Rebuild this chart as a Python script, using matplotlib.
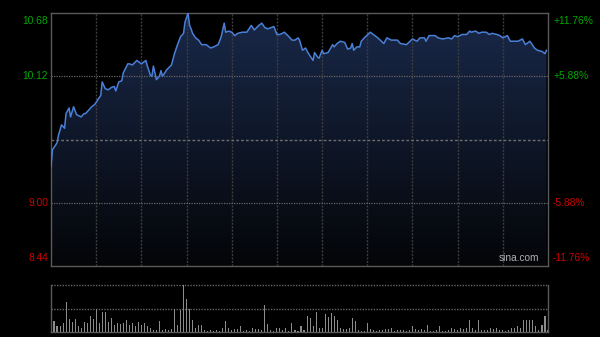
import numpy as np
import matplotlib
matplotlib.use("Agg")
import matplotlib.pyplot as plt
from matplotlib.colors import LinearSegmentedColormap

# ---- data ----
prev_close = 9.56
price_ticks_left = [10.68, 10.12, 9.00, 8.44]
pct_labels_right = ["+11.76%", "+5.88%", "-5.88%", "-11.76%"]

minutes = [0, 1, 4, 5, 7, 9, 10, 12, 13, 15, 17, 20, 22, 23, 27, 29, 31, 33, 34, 36,
           38, 40, 42, 43, 45, 47, 48, 51, 52, 54, 57, 60, 63, 64, 66, 67, 68, 70, 72, 73,
           74, 77, 80, 82, 84, 86, 88, 89, 91, 92, 93, 94, 96, 98, 100, 103, 106, 108, 111, 113,
           115, 116, 118, 120, 122, 124, 127, 130, 133, 135, 138, 140, 142, 144, 148, 150, 152, 155, 158, 160,
           162, 164, 165, 167, 169, 171, 174, 175, 177, 178, 180, 181, 184, 187, 188, 190, 192, 195, 197, 199,
           200, 201, 203, 205, 206, 208, 212, 214, 217, 221, 223, 226, 230, 232, 236, 240, 243, 245, 248, 249,
           251, 255, 257, 260, 264, 266, 268, 270, 273, 276, 278, 279, 282, 284, 286, 289, 291, 293, 296, 298,
           300, 303, 305, 308, 310, 313, 315, 318, 321, 323, 326, 328, 329]
prices = [9.32, 9.47, 9.53, 9.60, 9.69, 9.66, 9.79, 9.84, 9.76, 9.85, 9.78, 9.76, 9.79, 9.79, 9.85, 9.87, 9.91, 9.95, 10.07, 10.01,
          10.00, 10.02, 10.03, 9.99, 10.07, 10.08, 10.15, 10.23, 10.23, 10.22, 10.26, 10.23, 10.26, 10.21, 10.13, 10.12, 10.21, 10.09, 10.12, 10.17,
          10.12, 10.18, 10.22, 10.32, 10.40, 10.47, 10.50, 10.60, 10.68, 10.57, 10.54, 10.50, 10.46, 10.44, 10.40, 10.40, 10.37, 10.38, 10.40, 10.47,
          10.59, 10.51, 10.52, 10.51, 10.48, 10.50, 10.51, 10.51, 10.57, 10.53, 10.57, 10.59, 10.55, 10.54, 10.56, 10.49, 10.49, 10.51, 10.47, 10.44,
          10.44, 10.46, 10.44, 10.35, 10.37, 10.32, 10.26, 10.33, 10.29, 10.28, 10.35, 10.32, 10.33, 10.40, 10.38, 10.41, 10.43, 10.42, 10.36, 10.37,
          10.41, 10.35, 10.38, 10.38, 10.43, 10.46, 10.51, 10.49, 10.46, 10.41, 10.46, 10.44, 10.44, 10.41, 10.40, 10.45, 10.43, 10.46, 10.46, 10.43,
          10.48, 10.48, 10.46, 10.45, 10.46, 10.45, 10.48, 10.47, 10.49, 10.49, 10.52, 10.51, 10.52, 10.50, 10.51, 10.51, 10.49, 10.50, 10.49, 10.48,
          10.46, 10.48, 10.43, 10.43, 10.43, 10.45, 10.40, 10.43, 10.37, 10.35, 10.34, 10.32, 10.35]

vol_minutes = list(range(0, 331, 2))
volumes = [24, 24, 13, 13, 20, 63, 27, 22, 27, 13,
           8, 22, 19, 35, 27, 49, 19, 42, 42, 22,
           30, 15, 20, 18, 20, 26, 15, 19, 12, 22,
           15, 19, 12, 8, 5, 5, 24, 5, 6, 5,
           6, 49, 15, 47, 100, 70, 50, 25, 8, 15,
           14, 5, 3, 4, 3, 4, 3, 8, 24, 8,
           5, 6, 6, 13, 3, 4, 3, 8, 6, 6,
           4, 58, 18, 4, 3, 8, 8, 4, 8, 3,
           19, 4, 3, 12, 5, 35, 30, 12, 42, 8,
           8, 38, 32, 40, 35, 26, 8, 6, 6, 8,
           30, 24, 4, 3, 3, 20, 6, 5, 3, 5,
           5, 6, 6, 8, 3, 5, 5, 5, 3, 4,
           12, 6, 5, 6, 5, 15, 3, 3, 4, 12,
           3, 3, 4, 8, 6, 4, 8, 6, 8, 26,
           8, 4, 26, 5, 5, 4, 8, 6, 8, 4,
           5, 3, 4, 8, 8, 12, 8, 26, 26, 26,
           25, 12, 5, 15, 33, 5]
assert len(minutes) == len(prices)
assert len(vol_minutes) == len(volumes)

# ---- figure ----
W, H = 600, 337
fig = plt.figure(figsize=(W / 100, H / 100), dpi=100, facecolor="black")
plt.rcParams["font.family"] = ["Liberation Sans", "DejaVu Sans"]

ax = fig.add_axes([51 / W, 71 / H, 497 / W, 253 / H], facecolor="black")
ymin, ymax = 8.44, 10.68
ax.set_xlim(0, 330)
ax.set_ylim(ymin, ymax)

# gradient fill under the line
cmap = LinearSegmentedColormap.from_list("g", [(0.015, 0.02, 0.03), (0.10, 0.16, 0.29)])
grad = np.linspace(0, 1, 256).reshape(-1, 1)
im = ax.imshow(grad, extent=[0, 330, ymin, ymax], origin="lower", aspect="auto",
               cmap=cmap, zorder=1)
poly = ax.fill_between(minutes, prices, ymin, color="none", zorder=1)
im.set_clip_path(poly.get_paths()[0], transform=ax.transData)

# grid
for m in range(30, 330, 30):
    ax.axvline(m, color="#3c3c3c", lw=1, ls=(0, (1.5, 1)), zorder=2)
for v in [10.12, 9.00]:
    ax.axhline(v, color="#666666", lw=0.9, ls=(0, (1, 1)), zorder=2)
ax.axhline(prev_close, color="#6e6e6e", lw=1, ls=(0, (2, 1.5)), zorder=2)

ax.plot(minutes, prices, color="#4a7fd6", lw=1.1, zorder=3)

for s in ax.spines.values():
    s.set_color("#5a5a5a")
    s.set_linewidth(1)
ax.set_xticks([])
ax.set_yticks([])

# left labels
left_cols = ["#00a800", "#00a800", "#cc0000", "#cc0000"]
vas = ["top", "center", "center", "bottom"]
for v, c, va in zip(price_ticks_left, left_cols, vas):
    off = -0.03 if va == "top" else (0.03 if va == "bottom" else 0)
    ax.text(-3 / 497 * 330, v + off, f"{v:.2f}", color=c, fontsize=7.4,
            ha="right", va=va, clip_on=False)
# right labels
right_vals = [10.68, 10.12, 9.00, 8.44]
for v, lab, c, va in zip(right_vals, pct_labels_right, left_cols, vas):
    off = -0.03 if va == "top" else (0.03 if va == "bottom" else 0)
    ax.text(330 + 5 / 497 * 330, v + off, lab, color=c, fontsize=7.4,
            ha="left", va=va, clip_on=False)

ax.text(0.983, 0.012, "sina.com", transform=ax.transAxes, color="#b0b0b0",
        fontsize=7.3, ha="right", va="bottom", zorder=4)

# ---- volume panel ----
axv = fig.add_axes([51 / W, 5 / H, 497 / W, 47 / H], facecolor="black")
axv.set_xlim(0, 330)
axv.set_ylim(0, 100)
axv.bar(vol_minutes, volumes, width=0.7, color="#8c8c8c", linewidth=0, zorder=2)
axv.axhline(100, color="#666666", lw=1, ls=(0, (1, 1)), zorder=1, clip_on=False)
axv.axhline(50, color="#666666", lw=1, ls=(0, (1, 1)), zorder=1)
for k, s in axv.spines.items():
    s.set_color("#5a5a5a")
    s.set_linewidth(1)
axv.spines["top"].set_visible(False)
axv.set_xticks([])
axv.set_yticks([])

fig.savefig("out.png", dpi=100, facecolor="black")
